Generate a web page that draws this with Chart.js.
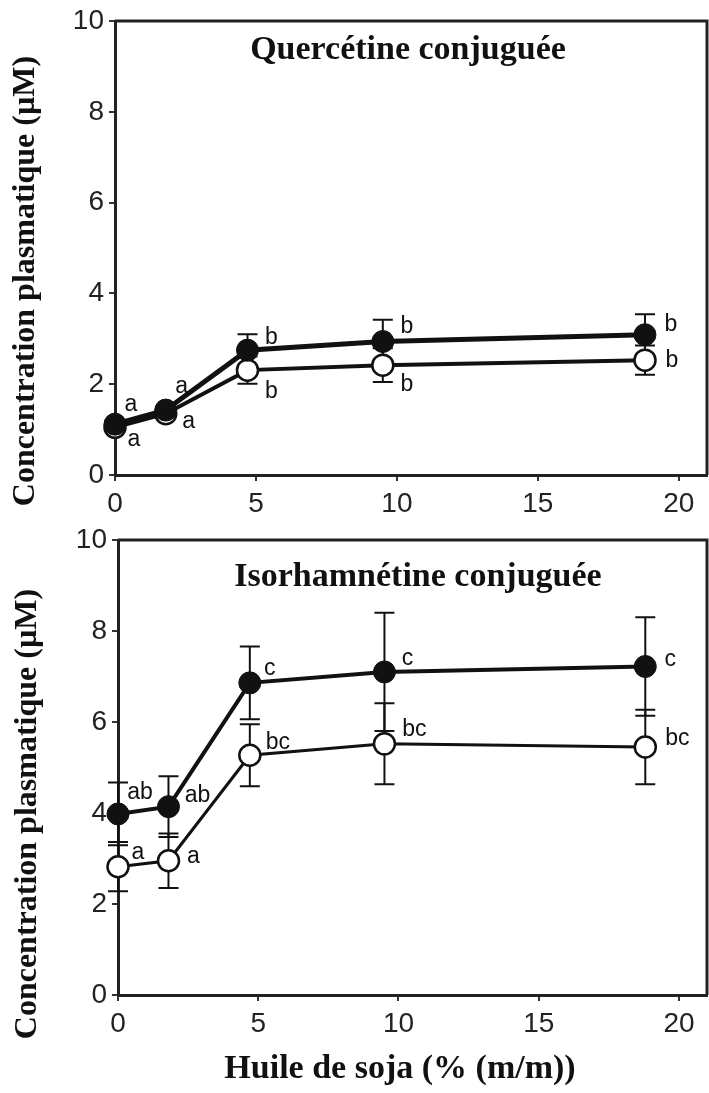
<!DOCTYPE html>
<html>
<head>
<meta charset="utf-8">
<script src="https://cdn.jsdelivr.net/npm/chart.js@4.4.0/dist/chart.umd.min.js"></script>
<style>
  html, body { margin: 0; padding: 0; background: #fff; }
  #wrap { position: relative; width: 709px; height: 1093px; }
  .panel { position: absolute; left: 0; width: 709px; }
  #p1 { top: 0; height: 530px; }
  #p2 { top: 520px; height: 573px; }
</style>
</head>
<body>
<div id="wrap">
  <div class="panel" id="p1"><canvas id="chartQuer"></canvas></div>
  <div class="panel" id="p2"><canvas id="chartIso"></canvas></div>
</div>
<script>
// ============================
// DATA
// ============================
const doses = [0, 1.8, 4.7, 9.5, 18.8];
const xTickValues = [0, 5, 10, 15, 20];

const querFilled = [1.12, 1.43, 2.75, 2.94, 3.09];
const querFilledErr = [0.05, 0.05, 0.35, 0.48, 0.45];
const querFilledLetters = ["a", "a", "b", "b", "b"];
const querOpen = [1.05, 1.35, 2.31, 2.42, 2.53];
const querOpenErr = [0.05, 0.05, 0.3, 0.37, 0.32];
const querOpenLetters = ["a", "a", "b", "b", "b"];

const isoFilled = [3.98, 4.14, 6.86, 7.1, 7.22];
const isoFilledErr = [0.69, 0.67, 0.8, 1.3, 1.08];
const isoFilledLetters = ["ab", "ab", "c", "c", "c"];
const isoOpen = [2.82, 2.95, 5.27, 5.52, 5.45];
const isoOpenErr = [0.54, 0.6, 0.68, 0.89, 0.82];
const isoOpenLetters = ["a", "a", "bc", "bc", "bc"];

const yTitle = "Concentration plasmatique (\u00b5M)";
const xTitle = "Huile de soja (% (m/m))";

// label offsets (px) from each point
const querFilledOff = [[16, -19], [16, -23], [24, -12], [24, -15], [26, -10]];
const querOpenOff = [[19, 12], [23, 8], [24, 22], [24, 20], [27, 1]];
const isoFilledOff = [[22, -21], [29, -11], [20, -14], [23, -13], [25, -7]];
const isoOpenOff = [[20, -14], [25, -4], [28, -13], [30, -14], [32, -8]];

const INK = "#111";
const TICK_FONT = "'Liberation Sans Narrow', 'Liberation Sans', Arial, sans-serif";
const SERIF = "'Liberation Serif', 'DejaVu Serif', serif";

function points(values) {
    return doses.map((d, i) => ({ x: d, y: values[i] }));
}

// ============================
// PLUGINS
// ============================
const errorBars = {
    id: "errorBars",
    beforeDatasetsDraw(chart) {
        const ctx = chart.ctx;
        const y = chart.scales.y;
        chart.data.datasets.forEach((ds, i) => {
            const meta = chart.getDatasetMeta(i);
            ctx.save();
            ctx.strokeStyle = INK;
            ctx.lineWidth = 2;
            meta.data.forEach((pt, j) => {
                const v = ds.data[j].y, e = ds.errors[j];
                const hi = y.getPixelForValue(v + e);
                const lo = y.getPixelForValue(v - e);
                ctx.beginPath();
                ctx.moveTo(pt.x, hi); ctx.lineTo(pt.x, lo);
                ctx.moveTo(pt.x - 10, hi); ctx.lineTo(pt.x + 10, hi);
                ctx.moveTo(pt.x - 10, lo); ctx.lineTo(pt.x + 10, lo);
                ctx.stroke();
            });
            ctx.restore();
        });
    }
};

const letters = {
    id: "letters",
    afterDatasetsDraw(chart) {
        const ctx = chart.ctx;
        ctx.save();
        ctx.fillStyle = INK;
        ctx.font = "23px " + TICK_FONT;
        ctx.textAlign = "center";
        ctx.textBaseline = "middle";
        chart.data.datasets.forEach((ds, i) => {
            const meta = chart.getDatasetMeta(i);
            meta.data.forEach((pt, j) => {
                const off = ds.letterOffsets[j];
                ctx.fillText(ds.letters[j], pt.x + off[0], pt.y + off[1]);
            });
        });
        ctx.restore();
    }
};

const frameAndTitles = {
    id: "frameAndTitles",
    beforeDatasetsDraw(chart) {
        const a = chart.chartArea;
        const ctx = chart.ctx;
        ctx.save();
        ctx.strokeStyle = "#222";
        ctx.lineWidth = 3;
        ctx.beginPath();
        ctx.moveTo(a.left, a.top);
        ctx.lineTo(a.right, a.top);
        ctx.lineTo(a.right, a.bottom);
        ctx.stroke();
        ctx.restore();
    },
    afterDraw(chart, args, opts) {
        const ctx = chart.ctx;
        ctx.save();
        ctx.fillStyle = INK;
        ctx.textBaseline = "alphabetic";
        ctx.textAlign = "center";
        // panel title
        ctx.font = "bold 34px " + SERIF;
        ctx.fillText(opts.panelTitle, opts.panelTitlePos[0], opts.panelTitlePos[1]);
        // x title
        if (opts.xTitle) {
            ctx.font = "bold 34px " + SERIF;
            ctx.fillText(opts.xTitle, opts.xTitlePos[0], opts.xTitlePos[1]);
        }
        // y title
        ctx.translate(opts.yTitlePos[0], opts.yTitlePos[1]);
        ctx.rotate(-Math.PI / 2);
        ctx.font = "bold 32px " + SERIF;
        ctx.fillText(yTitle, 0, 0);
        ctx.restore();
    }
};

// ============================
// CHART BUILDER
// ============================
function makeChart(id, cfg) {
    const ctx = document.getElementById(id);
    return new Chart(ctx, {
        type: "line",
        data: {
            datasets: [{
                data: points(cfg.filled),
                errors: cfg.filledErr,
                letters: cfg.filledLetters,
                letterOffsets: cfg.filledOff,
                clip: false,
                borderColor: INK,
                borderWidth: cfg.filledLine,
                backgroundColor: INK,
                pointBackgroundColor: INK,
                pointBorderColor: INK,
                pointBorderWidth: 1,
                pointRadius: 11,
                tension: 0
            }, {
                data: points(cfg.open),
                errors: cfg.openErr,
                letters: cfg.openLetters,
                letterOffsets: cfg.openOff,
                clip: false,
                borderColor: INK,
                borderWidth: cfg.openLine,
                pointBackgroundColor: "#fff",
                pointBorderColor: INK,
                pointBorderWidth: 2.5,
                pointRadius: 10.5,
                tension: 0
            }]
        },
        options: {
            responsive: true,
            maintainAspectRatio: false,
            animation: false,
            layout: { autoPadding: false, padding: { top: cfg.top, right: 2, left: 0, bottom: 0 } },
            plugins: {
                legend: { display: false },
                tooltip: { enabled: false },
                frameAndTitles: {
                    panelTitle: cfg.title,
                    panelTitlePos: cfg.titlePos,
                    xTitle: cfg.xTitle,
                    xTitlePos: cfg.xTitlePos,
                    yTitlePos: cfg.yTitlePos
                }
            },
            scales: {
                x: {
                    type: "linear",
                    min: 0,
                    max: 21,
                    afterBuildTicks: s => { s.ticks = xTickValues.map(v => ({ value: v })); },
                    afterFit: s => { s.height = cfg.xHeight; s.paddingLeft = 0; s.paddingRight = 0; },
                    grid: { drawOnChartArea: false, tickLength: 6, color: "#333", lineWidth: 2 },
                    border: { color: "#222", width: 3 },
                    ticks: { color: "#222", padding: 6, font: { family: TICK_FONT, size: 28 } }
                },
                y: {
                    min: 0,
                    max: 10,
                    afterFit: s => { s.width = cfg.yWidth; s.paddingTop = 0; s.paddingBottom = 0; },
                    grid: { drawOnChartArea: false, tickLength: 6, color: "#333", lineWidth: 2 },
                    border: { color: "#222", width: 3 },
                    ticks: { stepSize: 2, color: "#222", padding: 5, font: { family: TICK_FONT, size: 28 } }
                }
            }
        },
        plugins: [errorBars, letters, frameAndTitles]
    });
}

makeChart("chartQuer", {
    filled: querFilled, filledErr: querFilledErr, filledLetters: querFilledLetters, filledOff: querFilledOff,
    open: querOpen, openErr: querOpenErr, openLetters: querOpenLetters, openOff: querOpenOff,
    filledLine: 5, openLine: 4,
    top: 21, yWidth: 115, xHeight: 55,
    title: "Quercétine conjuguée", titlePos: [408, 59],
    yTitlePos: [34, 281]
});

makeChart("chartIso", {
    filled: isoFilled, filledErr: isoFilledErr, filledLetters: isoFilledLetters, filledOff: isoFilledOff,
    open: isoOpen, openErr: isoOpenErr, openLetters: isoOpenLetters, openOff: isoOpenOff,
    filledLine: 4, openLine: 3,
    top: 20, yWidth: 118, xHeight: 98,
    title: "Isorhamnétine conjuguée", titlePos: [418, 66],
    xTitle: xTitle, xTitlePos: [400, 558],
    yTitlePos: [36, 294]
});
</script>
</body>
</html>
